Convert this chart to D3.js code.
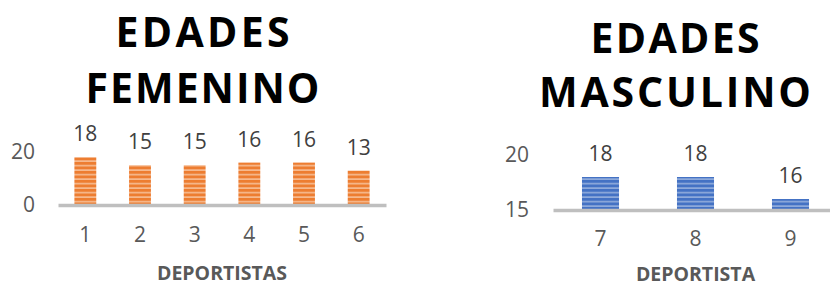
<!DOCTYPE html>
<html>
<head>
<meta charset="utf-8">
<script src="https://cdn.jsdelivr.net/npm/d3@7"></script>
<style>
  body { margin: 0; background: #fff; }
  svg { display: block; font-family: "Open Sans", sans-serif; }
  .axis text { fill: #595959; font-size: 21px; font-family: "Open Sans", sans-serif; }
</style>
</head>
<body>
<svg id="chart" width="830" height="286"></svg>
<script>
// data
const femCategories = ["1", "2", "3", "4", "5", "6"];
const femValues = [18, 15, 15, 16, 16, 13];
const femTicks = [0, 20];

const masCategories = ["7", "8", "9"];
const masValues = [18, 18, 16];
const masTicks = [15, 20];

const svg = d3.select("#chart");

// striped fills for the bars
const defs = svg.append("defs");
function stripes(id, base, light) {
  const p = defs.append("pattern")
    .attr("id", id)
    .attr("patternUnits", "userSpaceOnUse")
    .attr("width", 8)
    .attr("height", 4.5);
  p.append("rect").attr("width", 8).attr("height", 4.5).attr("fill", base);
  p.append("rect").attr("y", 2.8).attr("width", 8).attr("height", 1.7).attr("fill", light);
}
stripes("orangeStripes", "#ed7d31", "#f6b98e");
stripes("blueStripes", "#4472c4", "#8eaadb");

function drawChart(opt) {
  const x = d3.scaleBand()
    .domain(opt.categories)
    .range(opt.xRange)
    .paddingInner(opt.pad)
    .paddingOuter(opt.pad / 2);
  const y = d3.scaleLinear().domain(opt.domain).range(opt.yRange);
  const base = y(opt.domain[0]);

  // title, two lines
  opt.title.forEach(function (t, i) {
    svg.append("text")
      .attr("x", opt.titleX)
      .attr("y", opt.titleY[i])
      .attr("text-anchor", "middle")
      .attr("font-size", 41)
      .attr("font-weight", "bold")
      .attr("fill", "#000")
      .attr("textLength", opt.titleW[i])
      .attr("lengthAdjust", "spacing")
      .text(t);
  });

  // y axis labels only
  svg.append("g")
    .attr("class", "axis")
    .attr("transform", "translate(" + opt.yAxisX + ",0)")
    .call(d3.axisLeft(y).tickValues(opt.ticks).tickFormat(d3.format("d")).tickSize(0).tickPadding(8))
    .call(function (g) { g.select(".domain").remove(); });

  // bars
  svg.selectAll(null)
    .data(opt.values)
    .enter()
    .append("rect")
    .attr("x", function (d, i) { return x(opt.categories[i]); })
    .attr("y", function (d) { return y(d); })
    .attr("width", x.bandwidth())
    .attr("height", function (d) { return base - y(d); })
    .attr("fill", "url(#" + opt.fill + ")");

  // x axis with the grey base line
  const xg = svg.append("g")
    .attr("class", "axis")
    .attr("transform", "translate(0," + base + ")")
    .call(d3.axisBottom(x).tickSize(0).tickSizeOuter(0).tickPadding(opt.xPad));
  xg.select(".domain").attr("stroke", "#bfbfbf").attr("stroke-width", 3.5);

  // data labels
  svg.selectAll(null)
    .data(opt.values)
    .enter()
    .append("text")
    .attr("x", function (d, i) { return x(opt.categories[i]) + x.bandwidth() / 2; })
    .attr("y", function (d) { return y(d) - 16; })
    .attr("text-anchor", "middle")
    .attr("font-size", 21)
    .attr("fill", "#404040")
    .text(function (d) { return d; });

  // axis title
  svg.append("text")
    .attr("x", (opt.xRange[0] + opt.xRange[1]) / 2)
    .attr("y", opt.axisTitleY)
    .attr("text-anchor", "middle")
    .attr("font-size", 19.5)
    .attr("font-weight", "bold")
    .attr("fill", "#595959")
    .text(opt.axisTitle);
}

drawChart({
  categories: femCategories,
  values: femValues,
  ticks: femTicks,
  domain: [0, 20],
  xRange: [58, 386],
  yRange: [205, 152],
  pad: 0.6,
  fill: "orangeStripes",
  yAxisX: 43,
  xPad: 22,
  title: ["EDADES", "FEMENINO"],
  titleX: 202.5,
  titleY: [47, 103],
  titleW: [174, 234],
  axisTitle: "DEPORTISTAS",
  axisTitleY: 280
});

drawChart({
  categories: masCategories,
  values: masValues,
  ticks: masTicks,
  domain: [15, 20],
  xRange: [553, 838],
  yRange: [210, 155],
  pad: 0.61,
  fill: "blueStripes",
  yAxisX: 537,
  xPad: 21,
  title: ["EDADES", "MASCULINO"],
  titleX: 675,
  titleY: [53, 107],
  titleW: [169, 272],
  axisTitle: "DEPORTISTA",
  axisTitleY: 281
});
</script>
</body>
</html>
